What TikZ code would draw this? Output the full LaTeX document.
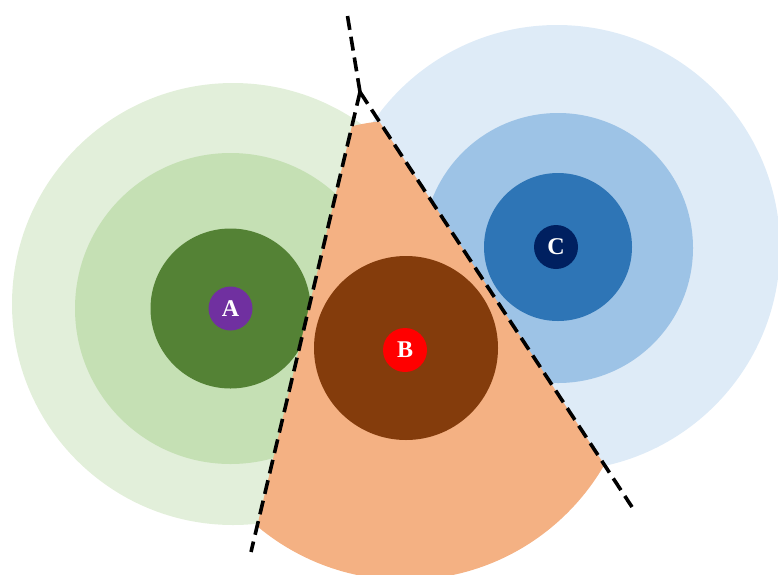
\documentclass[tikz,border=0pt]{standalone}
\usepackage{fontspec}
\setmainfont{Liberation Serif}
\definecolor{gA}{HTML}{E2EFDA}
\definecolor{gB}{HTML}{C5E0B4}
\definecolor{gC}{HTML}{548235}
\definecolor{pA}{HTML}{7030A0}
\definecolor{bA}{HTML}{DEEBF7}
\definecolor{bB}{HTML}{9DC3E6}
\definecolor{bC}{HTML}{2E75B6}
\definecolor{nC}{HTML}{002060}
\definecolor{oA}{HTML}{F4B183}
\definecolor{oB}{HTML}{843C0C}
\definecolor{rB}{HTML}{FF0000}
\tikzset{
  site/.style={circle, inner sep=0pt, minimum size=44pt, text=white,
    font=\fontsize{24}{24}\selectfont\bfseries},
  border/.style={line width=3.6pt, dash pattern=on 14pt off 7pt, black}
}
\begin{document}
\begin{tikzpicture}[x=1pt,y=-1pt]
\useasboundingbox (0,0) rectangle (778,574);
% green
\fill[gA] (233,304) circle (221);
\fill[gB] (230.5,308.5) circle (155.5);
\fill[gC] (230.5,308.5) circle (80);
% blue
\fill[bA] (557,248) circle (223);
\fill[bB] (558,248) circle (135);
\fill[bC] (558,247) circle (74);
% orange wedge
\coordinate (apex) at (360,92);
\coordinate (top) at (347,13);
\coordinate (lend) at (251,552);
\coordinate (rend) at (632,507);
\begin{scope}
  \clip (apex) -- (142,1012) -- (904,922) -- cycle;
  \fill[oA] (405,350) circle (230);
\end{scope}
\fill[oB] (406,348) circle (92);
% dashed borders
\draw[border] (apex) -- (top);
\draw[border] (apex) -- (lend);
\draw[border] (apex) -- (rend);
% sites
\node[site, fill=pA] (A) at (230.5,308.5) {A};
\node[site, fill=rB] (B) at (405,350) {B};
\node[site, fill=nC] (C) at (556,247) {C};
\end{tikzpicture}
\end{document}
